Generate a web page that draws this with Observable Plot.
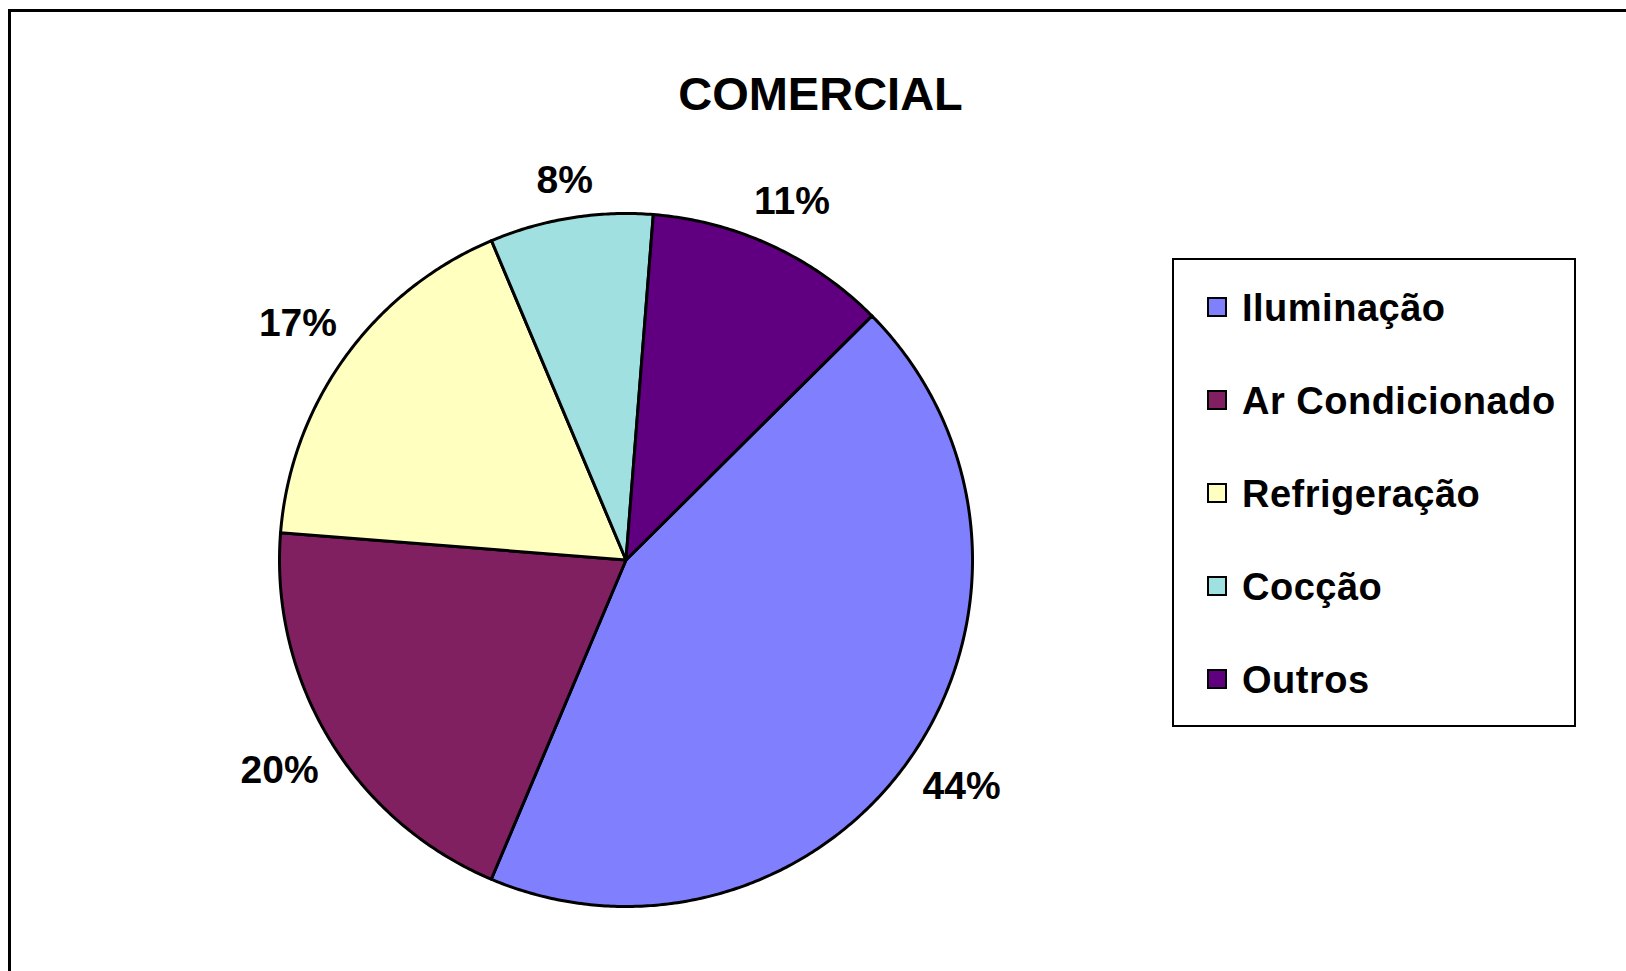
<!DOCTYPE html>
<html>
<head>
<meta charset="utf-8">
<script src="https://cdn.jsdelivr.net/npm/d3@7"></script>
<script src="https://cdn.jsdelivr.net/npm/@observablehq/plot@0.6"></script>
<style>
  html, body { margin: 0; padding: 0; background: #fff; }
  #wrap { position: relative; width: 1626px; height: 971px; overflow: hidden;
          font-family: "Liberation Sans", Arial, Helvetica, sans-serif; font-weight: bold; color: #000; }
  #frame { position: absolute; left: 8px; top: 9px; width: 3000px; height: 3000px;
           border-top: 3.5px solid #000; border-left: 3.5px solid #000; }
  #title { position: absolute; left: 0; width: 1641px; top: 70px; line-height: 47px;
           text-align: center; font-size: 47px; white-space: nowrap; }
  #chart { position: absolute; left: 0; top: 0; }
  #legendBox { position: absolute; left: 1172px; top: 258px; width: 404px; height: 469px;
               box-sizing: border-box; border: 2.5px solid #000; background: #fff; }
  .row { position: absolute; left: 1207px; height: 93px; display: flex; align-items: center; }
  .sw { width: 20px; height: 20px; box-sizing: border-box; border: 2.5px solid #000; margin-right: 15px; }
  .lab { font-size: 38px; letter-spacing: 0.5px; white-space: nowrap; line-height: 93px; position: relative; top: 2px; }
</style>
</head>
<body>
<div id="wrap">
  <div id="frame"></div>
  <div id="title"></div>
  <div id="chart"></div>
  <div id="legendBox"></div>
</div>
<script>
// ---- data ----
const chartTitle = "COMERCIAL";
const categories = ["Iluminação", "Ar Condicionado", "Refrigeração", "Cocção", "Outros"];
const values = [43.8, 19.9, 17.4, 7.6, 11.3];   // percent shares
const colors = ["#8080FF", "#802060", "#FFFFC0", "#A0E0E0", "#600080"];

// ---- layout / style constants ----
const W = 1626, H = 971;
const startAngle = 45.2;          // degrees clockwise from 12 o'clock
const margins = {left: 279, right: 654, top: 213, bottom: 65};
const labelFont = 39;
const labelGap = 20;

document.getElementById("title").textContent = chartTitle;

const total = d3.sum(values);
let acc = startAngle;
const slices = categories.map((name, i) => {
  const a0 = acc, a1 = acc + values[i] / total * 360;
  acc = a1;
  return {name, value: values[i], label: Math.round(values[i] / total * 100) + "%", a0, a1, mid: (a0 + a1) / 2};
});

const rad = (a) => a * Math.PI / 180;
function ring(a0, a1) {
  const pts = [[0, 0]];
  const n = Math.max(2, Math.ceil((a1 - a0) / 0.5));
  for (let k = 0; k <= n; k++) {
    const t = rad(a0 + (a1 - a0) * k / n);
    pts.push([Math.sin(t), Math.cos(t)]);
  }
  pts.push([0, 0]);
  return pts;
}
const features = {
  type: "FeatureCollection",
  features: slices.map(s => ({type: "Feature", properties: s, geometry: {type: "Polygon", coordinates: [ring(s.a0, s.a1)]}}))
};

// label placement: just outside the rim, pushed out by half the label box
const Rpx = (W - margins.left - margins.right) / 2;
const labelPos = slices.map(s => {
  const t = rad(s.mid);
  const ux = Math.sin(t), uy = Math.cos(t);
  const digits = s.label.length - 1;
  const w = labelFont * 0.95 * (0.556 * digits + 0.889);
  const h = labelFont * 0.716;
  const ext = (w / 2) * Math.abs(ux) + (h / 2) * Math.abs(uy);
  const r = (Rpx + labelGap + ext) / Rpx;
  return {label: s.label, x: ux * r, y: uy * r};
});

const plot = Plot.plot({
  width: W,
  height: H,
  marginLeft: margins.left,
  marginRight: margins.right,
  marginTop: margins.top,
  marginBottom: margins.bottom,
  projection: {type: "reflect-y", inset: 0, clip: false, domain: {type: "MultiPoint", coordinates: [[-1, -1], [1, 1]]}},
  color: {domain: categories, range: colors},
  marks: [
    Plot.geo(features, {fill: d => d.properties.name, stroke: "#000", strokeWidth: 3, strokeLinejoin: "round"}),
    Plot.text(labelPos, {x: "x", y: "y", text: "label", fontSize: labelFont, fontWeight: "bold",
      fontFamily: "Liberation Sans, Arial, sans-serif", fill: "#000", clip: false})
  ]
});
plot.style.background = "transparent";
plot.style.maxWidth = "none";
plot.style.overflow = "visible";
document.getElementById("chart").appendChild(plot);

// legend
const wrap = document.getElementById("wrap");
categories.forEach((c, i) => {
  const row = document.createElement("div");
  row.className = "row";
  row.style.top = (306.5 + i * 93.1 - 46.5) + "px";
  const sw = document.createElement("div");
  sw.className = "sw";
  sw.style.background = colors[i];
  const lab = document.createElement("div");
  lab.className = "lab";
  lab.textContent = c;
  row.appendChild(sw);
  row.appendChild(lab);
  wrap.appendChild(row);
});
</script>
</body>
</html>
